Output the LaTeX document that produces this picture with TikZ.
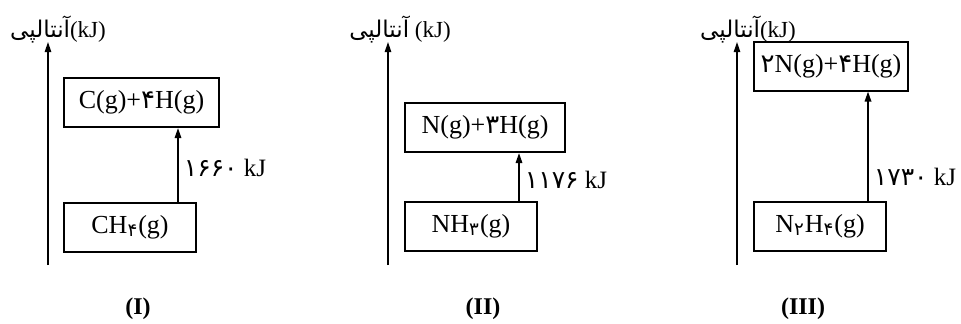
\documentclass[tikz,border=0pt]{standalone}
\usepackage{fontspec}
\setmainfont{Liberation Serif}
\newfontfamily\arabicfont[Script=Arabic]{DejaVu Sans}
\TeXXeTstate=1
\usetikzlibrary{arrows.meta,positioning}
\newcommand{\fa}[1]{{\arabicfont #1}}
\newcommand{\fsub}[1]{\textsubscript{\arabicfont #1}}
\newcommand{\enth}{{\arabicfont\beginR آنتالپی\endR}}

\begin{document}
\begin{tikzpicture}[
  x=0.5pt,y=0.5pt,
  level/.style={draw,rectangle,line width=1pt,minimum height=24.5pt,inner sep=2pt,font=\fontsize{13}{15}\selectfont},
  axis/.style={-{Triangle[length=5pt,width=3.2pt]},line width=0.6pt},
  arr/.style={-{Triangle[length=5pt,width=3.2pt]},line width=0.9pt},
  elab/.style={right=0.5pt,inner sep=2pt,font=\fontsize{12.5}{15}\selectfont},
  axlab/.style={font=\fontsize{11.5}{13}\selectfont,inner sep=1pt},
  plab/.style={font=\fontsize{12}{14}\selectfont\bfseries}
]
\useasboundingbox (0,0) rectangle (961,323);

% Panel I
\coordinate (axIa) at (48,58);
\coordinate (axIb) at (48,281);
\draw[axis] (axIa) -- (axIb);
\node[axlab] (enI) at (58,293) {\enth(kJ)};
\node[level,minimum width=77.5pt] (cg) at (141.5,220.5) {C(g)+\fa{۴}H(g)};
\node[level,minimum width=66pt] (ch4) at (130,96) {CH\fsub{۴}(g)};
\draw[arr] ([xshift=24pt]ch4.north) -- node[elab,pos=0.45] {\fa{۱۶۶۰}~kJ} ([xshift=24pt]ch4.north |- cg.south);
\node[plab] (pI) at (138,14) {(I)};

% Panel II
\coordinate (axIIa) at (388,58);
\coordinate (axIIb) at (388,281);
\draw[axis] (axIIa) -- (axIIb);
\node[axlab] (enII) at (400,293) {\enth\ (kJ)};
\node[level,minimum width=80pt] (ng) at (485,195.5) {N(g)+\fa{۳}H(g)};
\node[level,minimum width=66pt] (nh3) at (471,97) {NH\fsub{۳}(g)};
\draw[arr] ([xshift=24pt]nh3.north) -- node[elab,pos=0.44] {\fa{۱۱۷۶}~kJ} ([xshift=24pt]nh3.north |- ng.south);
\node[plab] (pII) at (483,14) {(II)};

% Panel III
\coordinate (axIIIa) at (737,58);
\coordinate (axIIIb) at (737,281);
\draw[axis] (axIIIa) -- (axIIIb);
\node[axlab] (enIII) at (748,293) {\enth(kJ)};
\node[level,minimum width=77pt] (nng) at (831,257) {\fa{۲}N(g)+\fa{۴}H(g)};
\node[level,minimum width=66pt] (n2h4) at (820,97) {N\fsub{۲}H\fsub{۴}(g)};
\draw[arr] ([xshift=24pt]n2h4.north) -- node[elab,pos=0.22] {\fa{۱۷۳۰}~kJ} ([xshift=24pt]n2h4.north |- nng.south);
\node[plab] (pIII) at (803,14) {(III)};

\end{tikzpicture}
\end{document}
